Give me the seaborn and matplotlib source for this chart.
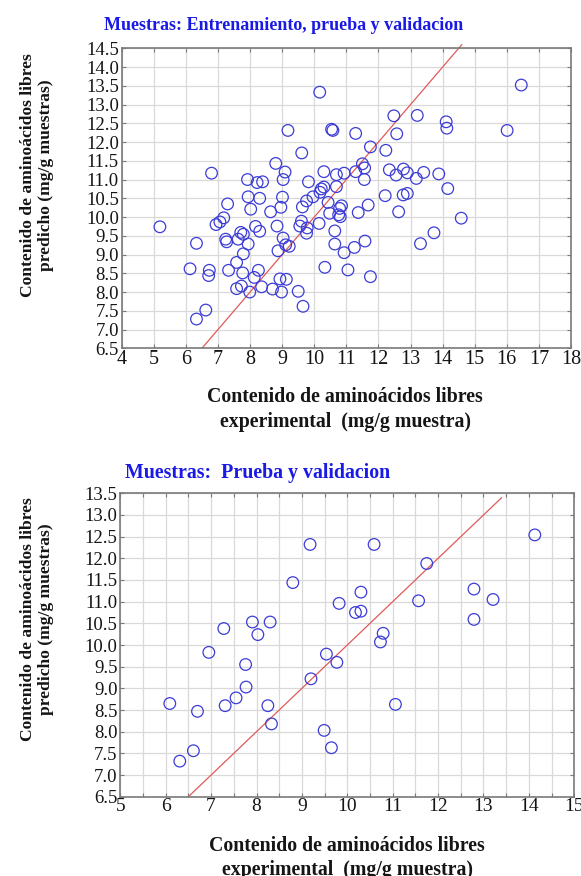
import matplotlib
matplotlib.use("Agg")
import matplotlib.pyplot as plt
import seaborn as sns
import numpy as np
import pandas as pd
from matplotlib.ticker import MultipleLocator, FormatStrFormatter

# ---------------- data ----------------
# Top chart: training, test and validation samples (experimental, predicted)
top_exp = [6.80, 10.17, 9.18, 10.54, 10.58, 9.61, 8.80, 9.09, 7.92, 8.22, 8.39, 9.03, 9.82,
           10.30, 10.69, 10.18, 10.22, 10.30, 10.69,
           5.19, 6.33, 6.13, 6.73, 6.71, 6.62, 6.33, 6.94, 7.06, 7.18, 7.30, 7.24, 7.27, 7.33,
           7.58, 7.63, 7.71, 7.79, 7.94, 7.79, 7.77, 7.58, 7.73, 7.99, 7.94, 8.02, 8.30, 8.17,
           8.30, 8.13, 8.26, 8.36, 8.64, 8.70, 8.84, 8.87, 8.93, 9.13, 8.98, 8.96, 9.01, 9.03,
           9.11, 9.22, 9.50, 9.65, 9.60, 9.55, 9.78, 9.76, 9.63, 9.76, 9.96, 10.15, 10.43, 10.48,
           10.33, 10.64, 10.64,
           16.45, 16.01, 12.48, 13.21, 14.11, 14.13, 11.29, 12.57, 11.75, 12.23, 11.50, 11.57,
           11.56, 10.93, 11.29, 12.34, 12.55, 12.78, 12.90, 13.18, 13.41, 13.88, 14.16, 12.21,
           12.77, 12.90, 12.63, 14.58, 13.73, 13.31, 11.68, 11.37, 10.85, 10.79, 10.76, 10.81,
           10.93, 11.25, 11.58, 11.05, 11.75]
top_pred = [11.17, 13.33, 12.31, 12.34, 12.31, 11.71, 11.43, 11.20, 11.00, 10.92, 10.94, 11.00, 10.94,
            11.21, 11.13, 10.66, 10.75, 10.80, 10.81,
            9.74, 9.30, 8.62, 8.58, 8.44, 7.52, 7.28, 9.80, 9.87, 9.98, 10.35, 9.41, 9.34, 8.58,
            8.79, 9.41, 9.59, 9.54, 9.28, 9.02, 8.51, 8.09, 8.16, 8.00, 10.54, 10.21, 10.50, 9.75,
            9.62, 8.39, 8.58, 8.14, 10.14, 8.08, 9.76, 9.10, 8.35, 8.34, 8.00, 10.26, 10.53, 9.44,
            9.26, 9.22, 8.02, 7.62, 9.89, 9.76, 9.71, 9.57, 10.27, 10.43, 10.54, 9.83, 10.39, 10.10,
            8.66, 9.63, 9.28,
            13.52, 12.31, 12.70, 12.71, 12.54, 12.37, 12.23, 12.22, 11.87, 11.78, 11.42, 11.31,
            11.00, 11.17, 11.21, 11.26, 11.12, 11.28, 11.18, 11.03, 11.19, 11.15, 10.76, 10.57,
            10.59, 10.63, 10.14, 9.97, 9.58, 9.29, 10.32, 10.12, 10.30, 10.23, 10.06, 10.01,
            9.05, 9.19, 9.36, 8.59, 8.41]

# Bottom chart: test and validation samples
bot_exp = [9.18, 8.80, 9.82, 7.28, 7.91, 8.30, 8.03, 6.95, 7.76, 9.54, 9.77, 6.09, 6.31, 6.61,
           6.70, 7.31, 7.55, 7.77, 8.25, 8.33, 9.20, 9.49, 9.65, 14.13, 10.59, 11.75, 12.79,
           13.21, 11.57, 12.79, 10.30, 10.18, 10.30, 10.79, 10.73, 11.06]
bot_pred = [12.32, 11.44, 10.96, 10.38, 10.53, 10.53, 10.24, 9.83, 9.55, 9.79, 9.60, 8.65, 7.32,
            7.56, 8.47, 8.60, 8.78, 9.03, 8.60, 8.18, 9.22, 8.03, 7.63, 12.54, 12.32, 11.88,
            11.29, 11.05, 11.02, 10.59, 11.22, 10.75, 10.78, 10.27, 10.07, 8.63]

# identity reference lines (start, end)
top_line = [6.5, 14.6]
bot_line = [6.5, 13.4]

title_top = "Muestras: Entrenamiento, prueba y validacion"
title_bot = "Muestras:  Prueba y validacion"
xlabel = "Contenido de aminoácidos libres\nexperimental  (mg/g muestra)"
ylabel = "Contenido de aminoácidos libres\npredicho (mg/g muestras)"

# ---------------- style ----------------
sns.set_theme(style="white")
plt.rcParams["font.family"] = ["Liberation Serif", "DejaVu Serif"]

W, H = 581, 876
fig = plt.figure(figsize=(W / 100, H / 100), dpi=100)

marker_color = "#3c3cd6"
line_color = "#e05a5a"
grid_color = "#d9d9d9"
frame_color = "#7a7a7a"
text_color = "#151515"
ytick_fs = 13.5
xtick_fs = 14.5
xlabel_fs = 14.3
ylabel_fs = 12.6


def style_axes(ax, xlim, ylim, xmajor, xgrid, xtick_size):
    ax.set_xlim(*xlim)
    ax.set_ylim(*ylim)
    ax.xaxis.set_major_locator(MultipleLocator(xmajor))
    ax.xaxis.set_minor_locator(MultipleLocator(xgrid))
    ax.yaxis.set_major_locator(MultipleLocator(0.5))
    ax.yaxis.set_major_formatter(FormatStrFormatter("%.1f"))
    ax.xaxis.set_major_formatter(FormatStrFormatter("%d"))
    ax.grid(True, which="major", color=grid_color, linewidth=0.9)
    ax.grid(True, which="minor", axis="x", color=grid_color, linewidth=0.9)
    ax.set_axisbelow(True)
    ax.tick_params(which="both", direction="in", length=3, width=0.8, color=frame_color,
                   top=True, right=True, bottom=True, left=True, labelcolor=text_color)
    ax.tick_params(axis="x", labelsize=xtick_size, pad=1)
    ax.tick_params(axis="y", labelsize=ytick_fs, pad=2)
    for s in ax.spines.values():
        s.set_color(frame_color)
        s.set_linewidth(1.2)
    ax.set_xlabel("")
    ax.set_ylabel("")


# top axes
ax1 = fig.add_axes([121.7 / W, 1 - 348.3 / H, (571 - 121.7) / W, 300 / H])
df_top = pd.DataFrame({"exp": top_exp, "pred": top_pred})
sns.scatterplot(data=df_top, x="exp", y="pred", ax=ax1, marker="o", s=70,
                facecolors="none", edgecolor=marker_color, linewidth=0.9, zorder=3)
sns.lineplot(x=top_line, y=top_line, ax=ax1, color=line_color, linewidth=0.9, zorder=2)
ax1.lines[-1].set_clip_on(False)
style_axes(ax1, (4, 18), (6.5, 14.5), 1, 1, xtick_fs)

# bottom axes
ax2 = fig.add_axes([120.3 / W, 1 - 796.7 / H, (574.3 - 120.3) / W, 303.4 / H])
df_bot = pd.DataFrame({"exp": bot_exp, "pred": bot_pred})
sns.scatterplot(data=df_bot, x="exp", y="pred", ax=ax2, marker="o", s=70,
                facecolors="none", edgecolor=marker_color, linewidth=0.9, zorder=3)
sns.lineplot(x=bot_line, y=bot_line, ax=ax2, color=line_color, linewidth=0.9, zorder=2)
style_axes(ax2, (5, 15), (6.5, 13.5), 1, 0.5, 14)

# titles and labels
fig.text(284 / W, 1 - 25 / H, title_top, color="#1a1ae6", fontsize=13,
         fontweight="bold", ha="center", va="center")
fig.text(125 / W, 1 - 472.7 / H, title_bot, color="#1a1ae6", fontsize=14.3,
         fontweight="bold", ha="left", va="center")
fig.text(345 / W, 1 - 409.5 / H, xlabel, fontsize=xlabel_fs, fontweight="bold",
         ha="center", va="center", linespacing=1.3, color=text_color)
fig.text(347 / W, 1 - 858 / H, xlabel, fontsize=xlabel_fs, fontweight="bold",
         ha="center", va="center", linespacing=1.3, color=text_color)
fig.text(37 / W, 1 - 175 / H, ylabel, fontsize=ylabel_fs, fontweight="bold", rotation=90,
         ha="center", va="center", linespacing=1.2, color=text_color)
fig.text(37 / W, 1 - 619 / H, ylabel, fontsize=ylabel_fs, fontweight="bold", rotation=90,
         ha="center", va="center", linespacing=1.2, color=text_color)

fig.savefig("out.png", dpi=100)
